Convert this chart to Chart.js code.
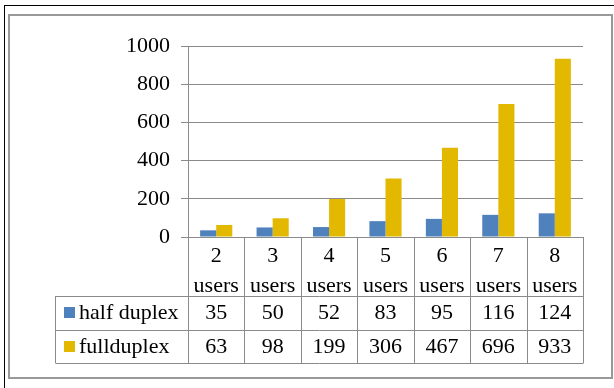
<!DOCTYPE html>
<html>
<head>
<meta charset="utf-8">
<script src="https://cdn.jsdelivr.net/npm/chart.js@4/dist/chart.umd.min.js"></script>
<style>
  html, body { margin: 0; padding: 0; background: #fff; }
  canvas { display: block; }
</style>
</head>
<body>
<canvas id="myBarChart" width="614" height="388"></canvas>
<script>
// data
const categories = ['2 users', '3 users', '4 users', '5 users', '6 users', '7 users', '8 users'];
const halfDuplex = [35, 50, 52, 83, 95, 116, 124];
const fullDuplex = [63, 98, 199, 306, 467, 696, 933];
const seriesNames = ['half duplex', 'fullduplex'];
const seriesColors = ['#4F81BD', '#E3B800'];
const yTicks = [0, 200, 400, 600, 800, 1000];

const FONT = '"Liberation Serif", "Times New Roman", serif';
const LINE = '#8a8a8a';

// frame around the whole picture
const framePlugin = {
    id: 'frame',
    beforeDraw(chart) {
        const ctx = chart.ctx;
        ctx.save();
        ctx.fillStyle = '#fff';
        ctx.fillRect(0, 0, chart.width, chart.height);
        ctx.strokeStyle = '#000';
        ctx.lineWidth = 1;
        ctx.strokeRect(4.5, 5.5, 700, 700);
        ctx.strokeStyle = '#999';
        ctx.lineWidth = 2;
        ctx.strokeRect(9, 15, 603, 363);
        ctx.restore();
    }
};

// data table under the category axis
const tablePlugin = {
    id: 'dataTable',
    afterDraw(chart) {
        const ctx = chart.ctx;
        const x = chart.scales.x;
        const area = chart.chartArea;
        const n = chart.data.labels.length;
        const step = (area.right - area.left) / n;
        const tableLeft = 55.5;
        const rows = [area.bottom, 296, 329.5, 363];

        ctx.save();
        ctx.strokeStyle = LINE;
        ctx.lineWidth = 1;
        ctx.beginPath();
        for (let i = 0; i <= n; i++) {
            const px = Math.round(area.left + i * step) + 0.5;
            ctx.moveTo(px, area.bottom);
            ctx.lineTo(px, rows[3]);
        }
        for (let r = 1; r < rows.length; r++) {
            ctx.moveTo(tableLeft, Math.round(rows[r]) + 0.5);
            ctx.lineTo(area.right + 0.5, Math.round(rows[r]) + 0.5);
        }
        ctx.moveTo(tableLeft, rows[1]);
        ctx.lineTo(tableLeft, rows[3]);
        ctx.stroke();

        ctx.fillStyle = '#000';
        ctx.font = '22px ' + FONT;
        ctx.textAlign = 'center';
        ctx.textBaseline = 'alphabetic';
        chart.data.labels.forEach((lab, i) => {
            const cx = x.getPixelForValue(i);
            const parts = lab.split(' ');
            ctx.fillText(parts[0], cx, 262);
            ctx.fillText(parts[1], cx, 292);
        });

        const baselines = [319, 353];
        chart.data.datasets.forEach((ds, d) => {
            ctx.fillStyle = ds.backgroundColor;
            ctx.fillRect(64, baselines[d] - 12, 11, 11);
            ctx.fillStyle = '#000';
            ctx.textAlign = 'left';
            ctx.fillText(ds.label, 79, baselines[d]);
            ctx.textAlign = 'center';
            ds.data.forEach((v, i) => {
                ctx.fillText(String(v), x.getPixelForValue(i), baselines[d]);
            });
        });
        ctx.restore();
    }
};

const ctx = document.getElementById('myBarChart').getContext('2d');
const myBarChart = new Chart(ctx, {
    type: 'bar',
    data: {
        labels: categories,
        datasets: [
            { label: seriesNames[0], data: halfDuplex, backgroundColor: seriesColors[0] },
            { label: seriesNames[1], data: fullDuplex, backgroundColor: seriesColors[1] }
        ]
    },
    options: {
        responsive: false,
        animation: false,
        devicePixelRatio: 1,
        categoryPercentage: 0.57,
        barPercentage: 1,
        layout: { padding: { left: 0, top: 46, right: 31, bottom: 151 } },
        plugins: {
            legend: { display: false },
            tooltip: { enabled: false }
        },
        scales: {
            x: { display: false },
            y: {
                min: 0,
                max: 1000,
                afterFit(scale) { scale.width = 188; },
                afterBuildTicks(scale) { scale.ticks = yTicks.map(v => ({ value: v })); },
                grid: { color: LINE, tickLength: 7, lineWidth: 1 },
                border: { color: LINE },
                ticks: {
                    padding: 11,
                    color: '#000',
                    font: { family: FONT, size: 22 },
                    callback: v => String(v)
                }
            }
        }
    },
    plugins: [framePlugin, tablePlugin]
});
</script>
</body>
</html>
